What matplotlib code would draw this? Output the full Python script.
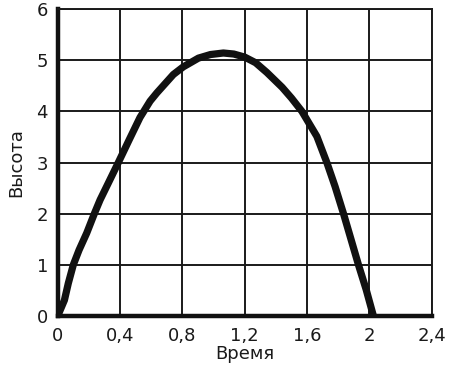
import matplotlib
matplotlib.use("Agg")
import matplotlib.pyplot as plt

# Data
time_values = [0.0, 0.043, 0.068, 0.10, 0.137, 0.186, 0.235, 0.272, 0.325, 0.389,
               0.458, 0.528, 0.593, 0.636, 0.742, 0.806, 0.903, 0.98, 1.063, 1.13,
               1.20, 1.27, 1.342, 1.44, 1.50, 1.567, 1.663, 1.727, 1.78, 1.834,
               1.883, 1.93, 1.98, 2.026]
height_values = [0.0, 0.31, 0.64, 1.0, 1.29, 1.62, 2.0, 2.27, 2.60, 3.0,
                 3.44, 3.88, 4.2, 4.36, 4.72, 4.87, 5.04, 5.11, 5.14, 5.12,
                 5.06, 4.95, 4.76, 4.47, 4.26, 4.0, 3.51, 3.0, 2.53, 2.0,
                 1.49, 1.0, 0.51, 0.0]
x_ticks = [0, 0.4, 0.8, 1.2, 1.6, 2.0, 2.4]
x_tick_labels = ["0", "0,4", "0,8", "1,2", "1,6", "2", "2,4"]
y_ticks = [0, 1, 2, 3, 4, 5, 6]
y_tick_labels = ["0", "1", "2", "3", "4", "5", "6"]
x_label = "Время"
y_label = "Высота"

plt.rcParams['font.family'] = ['DejaVu Sans']

fig = plt.figure(figsize=(4.52, 3.66), dpi=100)
ax = fig.add_axes([0.1277, 0.1366, 0.9551 - 0.1277, 0.9754 - 0.1366])

ax.plot(time_values, height_values, color="#111111", linewidth=5.2,
        solid_capstyle="round", solid_joinstyle="round", zorder=3)

ax.set_xlim(0, 2.4)
ax.set_ylim(0, 6)
ax.set_xticks(x_ticks)
ax.set_xticklabels(x_tick_labels)
ax.set_yticks(y_ticks)
ax.set_yticklabels(y_tick_labels)
ax.grid(True, color="#1a1a1a", linewidth=1.4)
ax.set_axisbelow(True)

for side in ["top", "right"]:
    ax.spines[side].set_linewidth(1.4)
    ax.spines[side].set_color("#1a1a1a")
for side in ["left", "bottom"]:
    ax.spines[side].set_linewidth(3.2)
    ax.spines[side].set_color("#111111")

ax.tick_params(axis="both", length=0, labelsize=13, colors="#1a1a1a")
ax.tick_params(axis="x", pad=8)
ax.tick_params(axis="y", pad=7)

ax.set_xlabel(x_label, fontsize=13, color="#1a1a1a", labelpad=0)
ax.set_ylabel(y_label, fontsize=13, color="#1a1a1a", labelpad=8)

fig.savefig("out.png", dpi=100, facecolor="white")
